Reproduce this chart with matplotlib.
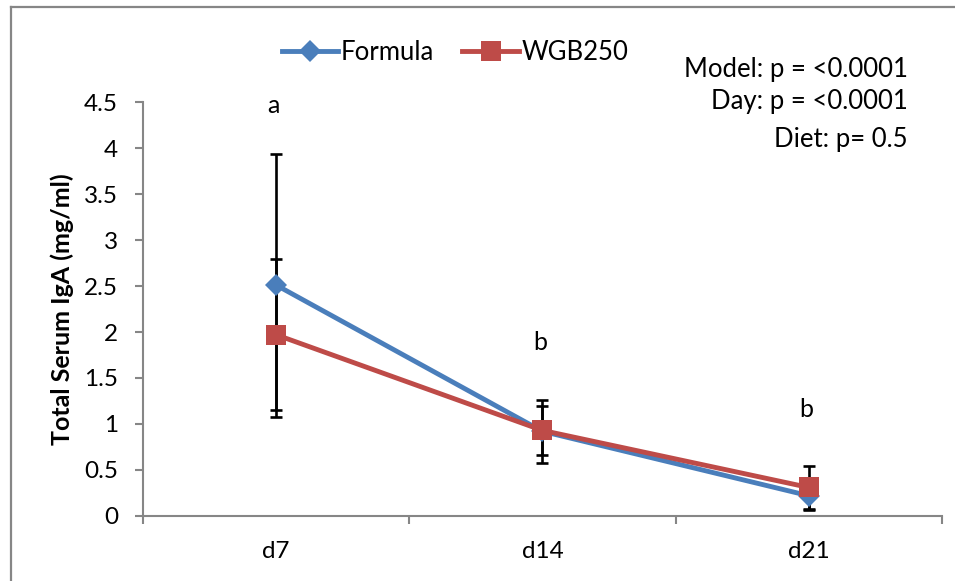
import matplotlib
matplotlib.use('Agg')
import matplotlib.pyplot as plt
from matplotlib.lines import Line2D

plt.rcParams['font.family'] = ['Lato', 'DejaVu Sans']

days = ['d7', 'd14', 'd21']
formula = [2.51, 0.92, 0.22]
formula_err = [1.43, 0.34, 0.15]
wgb250 = [1.97, 0.93, 0.31]
wgb250_err = [0.82, 0.27, 0.23]

letters = ['a', 'b', 'b']
letter_y = [4.46, 1.89, 1.16]

stats_lines = ['Model: p = <0.0001', 'Day: p = <0.0001', 'Diet: p= 0.5']

BLUE = '#4A7EBB'
RED = '#BE4B48'
GREY = '#868686'

fig = plt.figure(figsize=(9.55, 5.81), dpi=100)
ax = fig.add_axes([0.1497, 0.1119, 0.8367, 0.7125])

x = list(range(len(days)))

# error bars sit under the lines
ax.errorbar(x, formula, yerr=formula_err, fmt='none', ecolor='black',
            elinewidth=1.9, capsize=4.6, capthick=1.9, zorder=1)
ax.errorbar(x, wgb250, yerr=wgb250_err, fmt='none', ecolor='black',
            elinewidth=1.9, capsize=4.6, capthick=1.9, zorder=1)

ax.plot(x, formula, color=BLUE, lw=3.5, marker='D', markersize=11,
        markeredgewidth=0, label='Formula', zorder=2)
ax.plot(x, wgb250, color=RED, lw=3.5, marker='s', markersize=14.5,
        markeredgewidth=0, label='WGB250', zorder=3)

for xi, lt, ly in zip(x, letters, letter_y):
    ax.text(xi - 0.01, ly, lt, ha='center', va='center', fontsize=18)

ax.set_xlim(-0.5, 2.5)
ax.set_ylim(0, 4.5)
ax.set_yticks([0, 0.5, 1, 1.5, 2, 2.5, 3, 3.5, 4, 4.5])
ax.set_yticklabels(['0', '0.5', '1', '1.5', '2', '2.5', '3', '3.5', '4', '4.5'])
ax.set_xticks(x)
ax.set_xticklabels(days)
ax.set_xticks([-0.5, 0.5, 1.5, 2.5], minor=True)

ax.tick_params(axis='x', which='major', length=0, pad=18, labelsize=17.5)
ax.tick_params(axis='x', which='minor', length=6, width=1.5, color=GREY, direction='out')
ax.tick_params(axis='y', length=6, width=1.5, color=GREY, direction='out',
               pad=12, labelsize=17.5)

for side in ['top', 'right']:
    ax.spines[side].set_visible(False)
for side in ['left', 'bottom']:
    ax.spines[side].set_color(GREY)
    ax.spines[side].set_linewidth(1.5)

ax.set_ylabel('Total Serum IgA (mg/ml)', fontsize=18, fontweight='bold', labelpad=7)

fig.legend(loc='center', bbox_to_anchor=(455 / 955, 1 - 52 / 581), ncol=2,
           frameon=False, fontsize=18.5, handlelength=2.2, handletextpad=0.1,
           columnspacing=1.1)

for i, line in enumerate(stats_lines):
    fig.text(908 / 955, 1 - [70, 102, 140][i] / 581, line, ha='right',
             va='center', fontsize=18.5)

# chart frame along the left and top edges
fig.add_artist(Line2D([11 / 955, 11 / 955], [0, 1 - 7 / 581], color=GREY, lw=1.6,
                      transform=fig.transFigure))
fig.add_artist(Line2D([11 / 955, 1], [1 - 7 / 581, 1 - 7 / 581], color=GREY, lw=1.6,
                      transform=fig.transFigure))

fig.savefig('out.png', dpi=100)
